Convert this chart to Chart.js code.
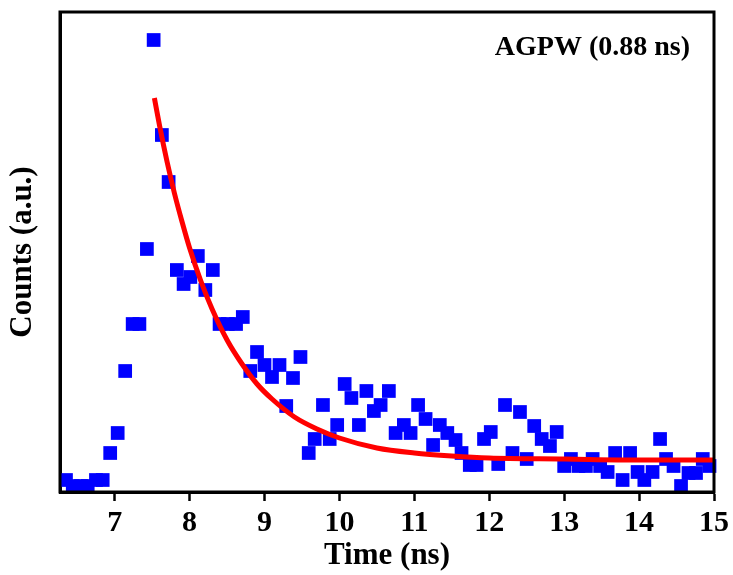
<!DOCTYPE html>
<html>
<head>
<meta charset="utf-8">
<title>AGPW decay</title>
<script src="https://cdn.jsdelivr.net/npm/chart.js@4/dist/chart.umd.min.js"></script>
<style>
  html,body{margin:0;padding:0;background:#fff}
  #wrap{width:733px;height:575px;position:relative}
</style>
</head>
<body>
<div id="wrap"><canvas id="c"></canvas></div>
<script>
/* TCSPC decay of AGPW: measured counts (blue squares) and the single-exp fit (red).
   Values read off the reference picture; y is in arbitrary units (no y ticks shown). */

const timeNs = [6.35, 6.44, 6.55, 6.64, 6.75, 6.84, 6.94, 7.04, 7.14, 7.24, 7.33, 7.43, 7.52,
  7.63, 7.72, 7.83, 7.92, 8.01, 8.11, 8.21, 8.31, 8.40, 8.51, 8.62, 8.71, 8.81, 8.90,
  9.00, 9.10, 9.20, 9.29, 9.38, 9.48, 9.59, 9.67, 9.78, 9.87, 9.97, 10.07, 10.16, 10.26,
  10.36, 10.46, 10.55, 10.66, 10.75, 10.86, 10.95, 11.05, 11.15, 11.25, 11.34, 11.44,
  11.55, 11.63, 11.74, 11.83, 11.93, 12.02, 12.12, 12.21, 12.31, 12.41, 12.50, 12.60,
  12.70, 12.81, 12.90, 13.00, 13.09, 13.19, 13.29, 13.38, 13.48, 13.58, 13.68, 13.78,
  13.88, 13.98, 14.07, 14.18, 14.28, 14.36, 14.46, 14.56, 14.66, 14.76, 14.85, 14.94];
const counts = [12, 6, 6, 6, 12, 12, 39, 59, 121, 168, 168, 243, 452,
  357, 310, 222, 208, 215, 236, 202, 222, 168, 168, 168, 175, 121, 140,
  127, 115, 127, 86, 114, 135, 39, 53, 87, 53, 67, 108, 94, 67,
  101, 81, 87, 101, 59, 67, 59, 87, 73, 47, 67, 59,
  52, 39, 27, 27, 53, 60, 28, 87, 39, 80, 33, 66,
  53, 46, 60, 26, 33, 26, 26, 33, 26, 20, 39, 12,
  39, 20, 12, 20, 53, 33, 26, 6, 19, 19, 33, 26];

const fitTime = [7.53, 7.6, 7.7, 7.8, 7.9, 8.0, 8.15, 8.3, 8.5, 8.7, 8.9, 9.1, 9.4, 9.7,
  10.0, 10.5, 11.0, 11.5, 12.0, 13.0, 14.0, 15.0];
const fitCounts = [394, 366, 330, 298, 270, 244, 211, 183, 152, 128, 108, 93, 75, 63,
  54, 44, 39, 36, 34, 33, 32, 32];

const xTicks = [7, 8, 9, 10, 11, 12, 13, 14, 15];
const label = "AGPW (0.88 ns)";

const SERIF = "'Times New Roman', 'Liberation Serif', serif";

// frame on all four sides + the sample label in the corner
const framePlugin = {
  id: "frame",
  afterDraw(chart) {
    const { ctx, chartArea: a } = chart;
    ctx.save();
    ctx.strokeStyle = "#000"; ctx.lineWidth = 3;
    ctx.strokeRect(a.left, a.top, a.right - a.left, a.bottom - a.top);
    ctx.fillStyle = "#000";
    ctx.font = "bold 28px " + SERIF;
    ctx.textAlign = "right"; ctx.textBaseline = "middle";
    ctx.fillText(label, 690, 48);
    ctx.restore();
  },
};

new Chart(document.getElementById("c"), {
  type: "scatter",
  data: {
    datasets: [
      { label: "fit", data: fitTime.map((t, i) => ({ x: t, y: fitCounts[i] })),
        showLine: true, borderColor: "#ff0000", borderWidth: 5, pointRadius: 0,
        cubicInterpolationMode: "monotone", order: 0, clip: false },
      { label: "counts", data: timeNs.map((t, i) => ({ x: t, y: counts[i] })),
        pointStyle: "rect", pointRadius: 9.7, pointHoverRadius: 9.7, borderWidth: 0,
        backgroundColor: "#0000ff", order: 1, clip: false },
    ],
  },
  options: {
    responsive: true, maintainAspectRatio: false, animation: false,
    devicePixelRatio: 1,
    layout: { padding: { left: 0, right: 19, top: 12, bottom: 0 } },
    plugins: { legend: { display: false }, tooltip: { enabled: false } },
    scales: {
      x: {
        type: "linear", min: 6.27, max: 15,
        afterBuildTicks: s => { s.ticks = xTicks.map(v => ({ value: v })); },
        afterFit: s => { s.height = 83; },
        grid: { drawOnChartArea: false, drawTicks: true, tickLength: 9, tickColor: "#000", tickWidth: 2.5 },
        border: { display: true, color: "#000", width: 3 },
        ticks: { color: "#000", padding: 4, maxRotation: 0, font: { family: SERIF, size: 30, weight: "bold" } },
        title: { display: true, text: "Time (ns)", color: "#000", padding: { top: 0, bottom: 0 },
                 font: { family: SERIF, size: 31, weight: "bold" } },
      },
      y: {
        min: 0, max: 480,
        afterFit: s => { s.width = 60; },
        grid: { display: false },
        border: { display: true, color: "#000", width: 3 },
        ticks: { display: false },
        title: { display: true, text: "Counts (a.u.)", color: "#000", padding: { top: 4, bottom: 0 },
                 font: { family: SERIF, size: 31, weight: "bold" } },
      },
    },
  },
  plugins: [framePlugin],
});
</script>
</body>
</html>
